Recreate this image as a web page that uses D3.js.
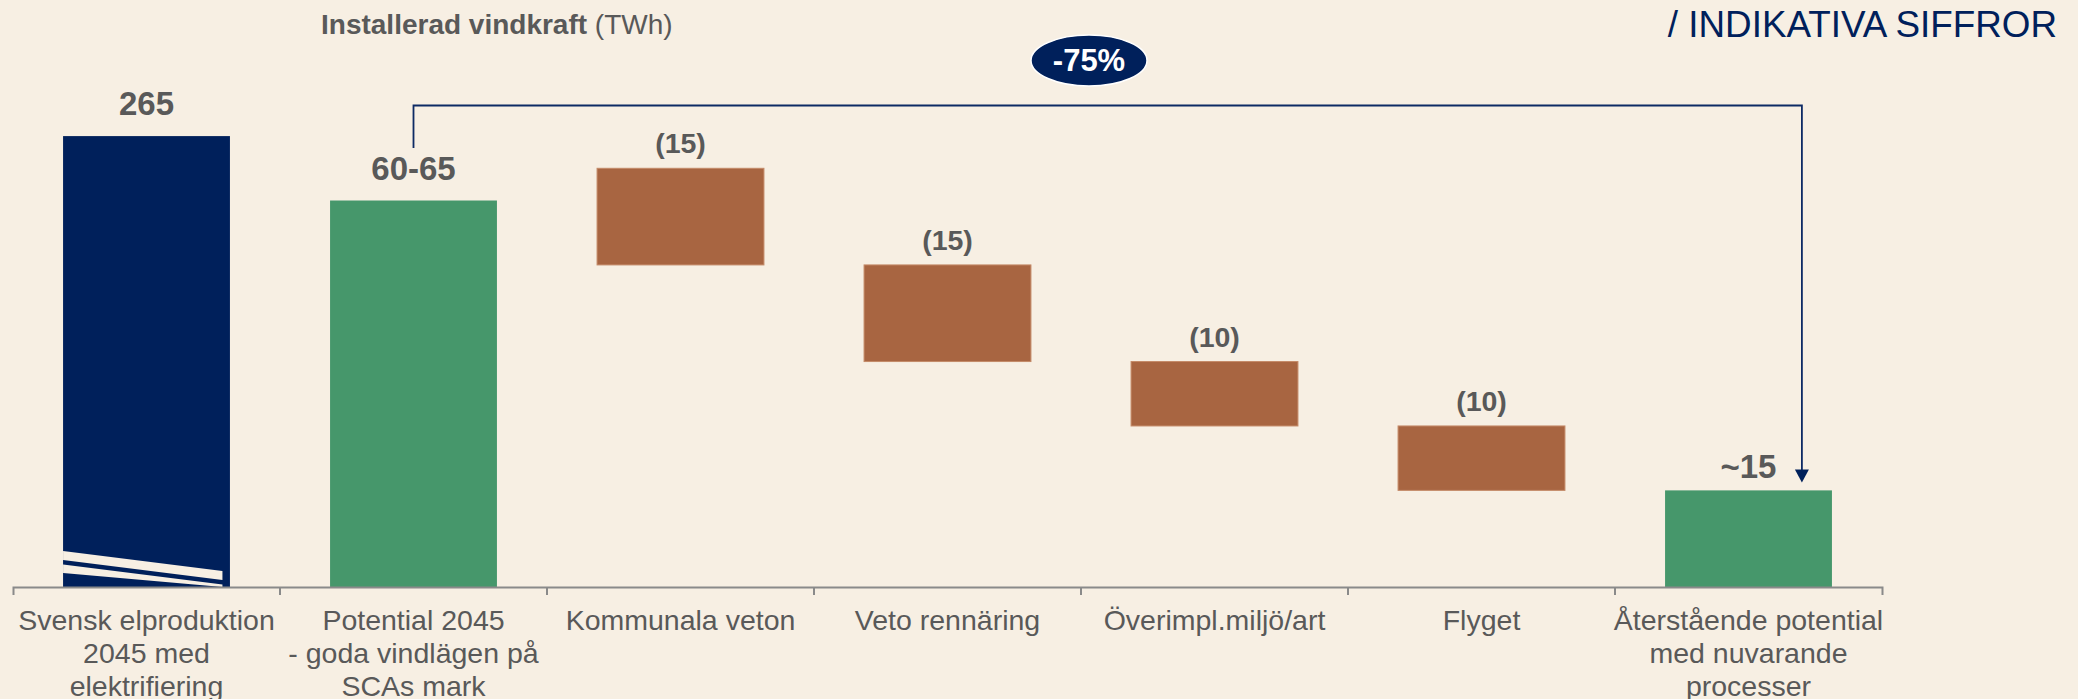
<!DOCTYPE html>
<html>
<head>
<meta charset="utf-8">
<script src="https://cdn.jsdelivr.net/npm/d3@7"></script>
<style>
  body { margin: 0; background: #f7efe3; }
  svg { display: block; font-family: "Liberation Sans", Arial, sans-serif; }
</style>
</head>
<body>
<div id="chart"></div>
<script>
// data
const categories = [
  'Svensk elproduktion\n2045 med\nelektrifiering',
  'Potential 2045\n- goda vindlägen på\nSCAs mark',
  'Kommunala veton',
  'Veto rennäring',
  'Överimpl.miljö/art',
  'Flyget',
  'Återstående potential\nmed nuvarande\nprocesser'
];
const barKinds = ['total', 'total', 'delta', 'delta', 'delta', 'delta', 'total'];
const barValues = [265, 60, -15, -15, -10, -10, 15];
const valueLabels = ['265', '60-65', '(15)', '(15)', '(10)', '(10)', '~15'];
const potentialRange = [60, 65];   // waterfall starts from the upper end
const axisBreakAt = 70;            // first bar is cut (broken axis)
const changeLabel = '-75%';
const titleBold = 'Installerad vindkraft';
const titleUnit = ' (TWh)';
const noteText = '/ INDIKATIVA SIFFROR';

const W = 2078, H = 699;
const baseY = 587;
const colors = { navy: '#00205b', green: '#46976b', brown: '#a86541', text: '#595959', axis: '#8a8a8a' };

const svg = d3.select('#chart').append('svg')
  .attr('width', W).attr('height', H);

const x = d3.scaleBand()
  .domain(d3.range(categories.length))
  .range([13, 1882])
  .paddingInner(0.375)
  .paddingOuter(0.1875);

const y = d3.scaleLinear()
  .domain([0, 65])
  .range([baseY, 168.3]);

// build waterfall rows
let running = potentialRange[1];
const rows = barValues.map((v, i) => {
  const kind = barKinds[i];
  let lo, hi;
  if (kind === 'total') {
    lo = 0; hi = Math.min(v, axisBreakAt);
  } else {
    hi = running; lo = running + v; running = lo;
  }
  let fill = colors.brown;
  if (kind === 'total') fill = i === 0 ? colors.navy : colors.green;
  return { i, kind, lo, hi, fill, label: valueLabels[i] };
});

// bars
svg.append('g').selectAll('rect')
  .data(rows)
  .enter()
  .append('rect')
  .attr('x', d => x(d.i))
  .attr('width', x.bandwidth())
  .attr('y', d => y(d.hi))
  .attr('height', d => y(d.lo) - y(d.hi))
  .attr('fill', d => d.fill)
  .attr('stroke', d => d.kind === 'delta' ? '#c48a68' : 'none')
  .attr('stroke-width', 1);

// axis break stripes on the first bar
const bx = x(0), bw = x.bandwidth();
const stripeW = bw * 0.955;
const slope = 0.126;
[[551, 560], [564.5, 573]].forEach(([t, b]) => {
  const pts = [
    [bx, t], [bx + stripeW, t + stripeW * slope],
    [bx + stripeW, b + stripeW * slope], [bx, b]
  ].map(p => [p[0], Math.min(p[1], baseY)]);
  svg.append('polygon')
    .attr('points', pts.map(p => p.join(',')).join(' '))
    .attr('fill', '#f7efe3');
});

// value labels
svg.append('g').selectAll('text')
  .data(rows)
  .enter()
  .append('text')
  .attr('x', d => x(d.i) + bw / 2)
  .attr('y', d => {
    if (d.kind === 'delta') return y(d.hi) - 15;
    return y(d.hi) - (d.i === 6 ? 12 : 21);
  })
  .attr('text-anchor', 'middle')
  .attr('font-weight', 'bold')
  .attr('font-size', d => d.kind === 'delta' ? 28.5 : 33)
  .attr('fill', colors.text)
  .text(d => d.label);

// x axis
const axis = svg.append('g')
  .attr('transform', `translate(0,${baseY})`)
  .call(d3.axisBottom(x).tickSize(0).tickSizeOuter(8).tickFormat(''));
axis.select('.domain').attr('stroke', colors.axis).attr('stroke-width', 2);

const step = x.step();
svg.append('g').selectAll('line')
  .data(d3.range(1, categories.length))
  .enter()
  .append('line')
  .attr('x1', i => x(i) - step * 0.1875)
  .attr('x2', i => x(i) - step * 0.1875)
  .attr('y1', baseY)
  .attr('y2', baseY + 8)
  .attr('stroke', colors.axis)
  .attr('stroke-width', 2);

// category labels
const catText = svg.append('g').selectAll('text')
  .data(categories)
  .enter()
  .append('text')
  .attr('text-anchor', 'middle')
  .attr('font-size', 28.5)
  .attr('fill', colors.text);
catText.each(function (d, i) {
  const t = d3.select(this);
  d.split('\n').forEach((line, k) => {
    t.append('tspan')
      .attr('x', x(i) + bw / 2)
      .attr('y', 630 + k * 33)
      .text(line);
  });
});

// bracket from potential to remaining
const x0 = x(1) + bw / 2;
const x1 = x(6) + bw * 0.82;
const topY = 105.5;
const tipY = y(rows[6].hi) - 8;
svg.append('path')
  .attr('d', `M${x0},148 V${topY} H${x1} V${tipY - 12}`)
  .attr('fill', 'none')
  .attr('stroke', '#0d2a64')
  .attr('stroke-width', 1.8);
svg.append('path')
  .attr('d', `M${x1 - 7},${tipY - 13} L${x1 + 7},${tipY - 13} L${x1},${tipY} Z`)
  .attr('fill', colors.navy);

// change bubble
const cx = x(4) - step * 0.1875 + 8;
svg.append('ellipse')
  .attr('cx', cx).attr('cy', 60.5)
  .attr('rx', 58).attr('ry', 25.5)
  .attr('fill', colors.navy)
  .attr('stroke', '#ffffff')
  .attr('stroke-width', 1.5);
svg.append('text')
  .attr('x', cx).attr('y', 71)
  .attr('text-anchor', 'middle')
  .attr('font-weight', 'bold')
  .attr('font-size', 31)
  .attr('fill', '#ffffff')
  .text(changeLabel);

// titles
const title = svg.append('text')
  .attr('x', 321).attr('y', 34)
  .attr('font-size', 28)
  .attr('fill', colors.text);
title.append('tspan').attr('font-weight', 'bold').text(titleBold);
title.append('tspan').text(titleUnit);

svg.append('text')
  .attr('x', 2057).attr('y', 37)
  .attr('text-anchor', 'end')
  .attr('font-size', 36.8)
  .attr('fill', colors.navy)
  .text(noteText);
</script>
</body>
</html>
